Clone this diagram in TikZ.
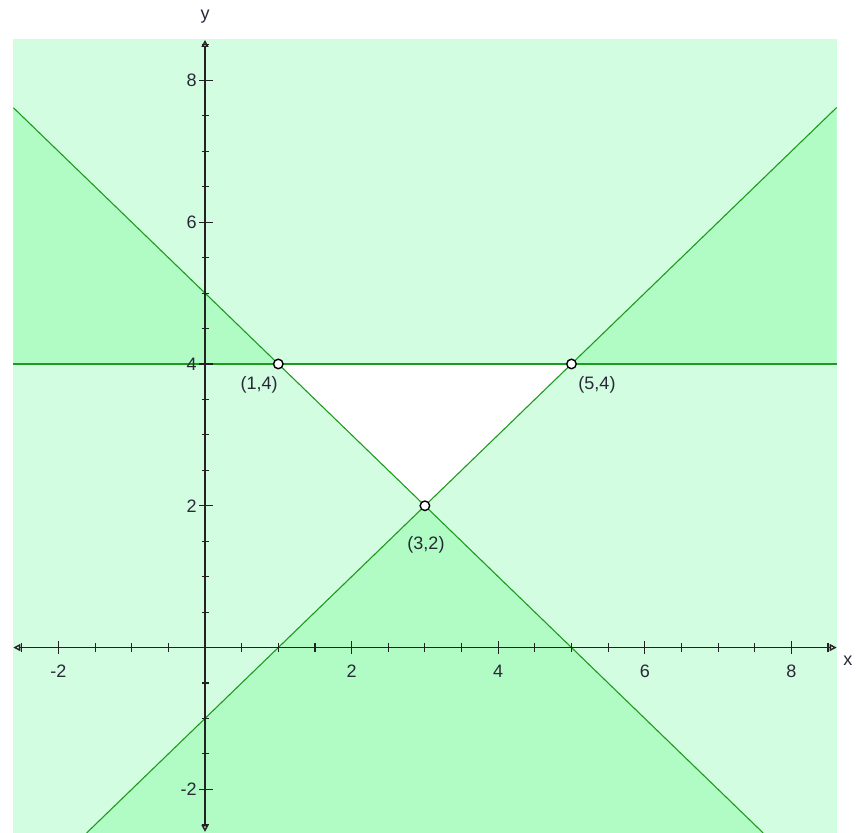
\documentclass[tikz,border=0pt]{standalone}
\usepackage{fontspec}
\setmainfont{Liberation Sans}
\usetikzlibrary{arrows.meta}
\definecolor{lightfill}{HTML}{D3FDE0}
\definecolor{darkfill}{HTML}{B0FCC4}
\definecolor{bndline}{HTML}{1E9A1E}
\definecolor{axiscol}{HTML}{222222}
\definecolor{txtcol}{HTML}{282838}
\tikzset{
  bnd/.style={draw=bndline, line width=1.1pt},
  axisline/.style={draw=axiscol, line width=1.4pt, {Triangle[open,length=7pt,width=7pt]}-{Triangle[open,length=7pt,width=7pt]}},
  majtick/.style={draw=axiscol, line width=1.2pt},
  mintick/.style={draw=axiscol, line width=1.1pt},
  lbl/.style={font=\fontsize{18}{20}\selectfont, text=txtcol, inner sep=0pt},
  vertex/.style={circle, draw=black, fill=white, line width=1.4pt, minimum size=9.5pt, inner sep=0pt},
}
\begin{document}
\begin{tikzpicture}[x=73.3pt, y=70.9pt]
\useasboundingbox (-2.797,-2.615) rectangle (8.950,9.134);
% plot area
\def\xmin{-2.615}
\def\xmax{8.618}
\def\ymin{-2.615}
\def\ymax{8.58}
\coordinate (BL) at (\xmin,\ymin);
\coordinate (TR) at (\xmax,\ymax);
\fill[lightfill] (BL) rectangle (TR);
% key points
\coordinate (P14) at (1,4);
\coordinate (P54) at (5,4);
\coordinate (P32) at (3,2);
\coordinate (L4) at (\xmin,4);
\coordinate (R4) at (\xmax,4);
\coordinate (LTop) at (\xmin,7.615);
\coordinate (RTop) at (\xmax,7.618);
\coordinate (LBot) at (-1.615,\ymin);
\coordinate (RBot) at (7.615,\ymin);
% darker overlaps
\fill[darkfill] (L4) -- (P14) -- (LTop) -- cycle;
\fill[darkfill] (P54) -- (R4) -- (RTop) -- cycle;
\fill[darkfill] (P32) -- (LBot) -- (RBot) -- cycle;
% feasible region
\fill[white] (P14) -- (P54) -- (P32) -- cycle;
% boundary lines
\draw[bnd] (L4) -- (R4);
\draw[bnd] (LTop) -- (RBot);
\draw[bnd] (LBot) -- (RTop);
% axes
\coordinate (XL) at (\xmin,0);
\coordinate (XR) at (\xmax,0);
\coordinate (YB) at (0,-2.6);
\coordinate (YT) at (0,8.57);
\draw[axisline] (XL) -- (XR);
\draw[axisline] (YB) -- (YT);
% x ticks
\foreach \t in {-2.5,-1.5,-1,-0.5,0.5,1,1.5,2.5,3,3.5,4.5,5,5.5,6.5,7,7.5,8.5}
  \draw[mintick] (\t,0) ++(0,-4.5pt) -- ++(0,9pt);
\foreach \t in {-2,2,4,6,8}
  \draw[majtick] (\t,0) ++(0,-6pt) -- ++(0,13pt);
% y ticks
\foreach \t in {-2.5,-1.5,-1,-0.5,0.5,1,1.5,2.5,3,3.5,4.5,5,5.5,6.5,7,7.5,8.5}
  \draw[mintick] (0,\t) ++(-3.5pt,0) -- ++(7.5pt,0);
\foreach \t in {-2,2,4,6,8}
  \draw[majtick] (0,\t) ++(-6pt,0) -- ++(14pt,0);
% tick labels
\foreach \t in {-2,2,4,6,8}
  \node[lbl] (xl\t) at (\t,-0.33) {\t};
\foreach \t in {-2,2,4,6,8}
  \node[lbl, anchor=east] (yl\t) at (-0.11,\t) {\t};
\node[lbl] (xlab) at (8.772,-0.19) {x};
\node[lbl] (ylab) at (0,8.894) {y};
% vertices
\node[vertex] (v14) at (P14) {};
\node[vertex] (v54) at (P54) {};
\node[vertex] (v32) at (P32) {};
\node[lbl] (t14) at (0.737,3.70) {(1,4)};
\node[lbl] (t54) at (5.348,3.70) {(5,4)};
\node[lbl] (t32) at (3.015,1.447) {(3,2)};
\end{tikzpicture}
\end{document}
